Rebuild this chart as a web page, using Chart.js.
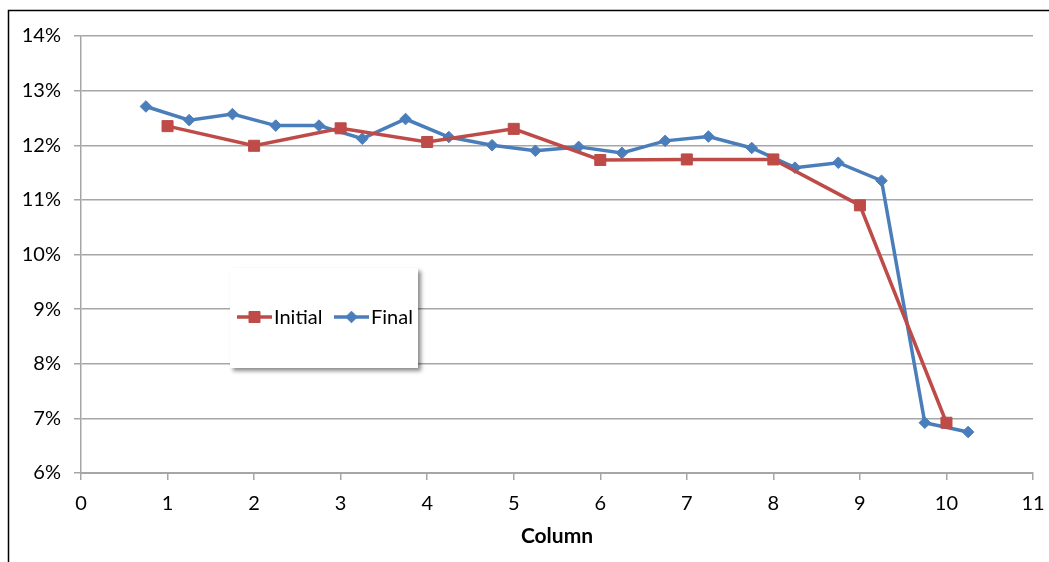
<!DOCTYPE html>
<html>
<head>
<meta charset="utf-8">
<script src="https://cdn.jsdelivr.net/npm/chart.js@4.4.1/dist/chart.umd.min.js"></script>
<style>
  html, body { margin: 0; padding: 0; background: #fff; overflow: hidden; }
  #wrap { position: relative; width: 1049px; height: 562px; }
</style>
</head>
<body>
<div id="wrap"><canvas id="c" width="1049" height="562"></canvas></div>
<script>
// ---- Data ----
const initialX = [1, 2, 3, 4, 5, 6, 7, 8, 9, 10];
const initialY = [12.35, 11.99, 12.31, 12.06, 12.30, 11.73, 11.74, 11.74, 10.90, 6.92];
const finalX = [0.75, 1.25, 1.75, 2.25, 2.75, 3.25, 3.75, 4.25, 4.75, 5.25, 5.75, 6.25, 6.75, 7.25, 7.75, 8.25, 8.75, 9.25, 9.75, 10.25];
const finalY = [12.71, 12.46, 12.57, 12.36, 12.36, 12.12, 12.48, 12.15, 12.00, 11.90, 11.97, 11.86, 12.08, 12.16, 11.95, 11.59, 11.68, 11.35, 6.92, 6.75];
const seriesNames = ['Initial', 'Final'];
const xTitle = 'Column';

const RED = '#BE4B48';
const BLUE = '#4A7EBB';
const GRID = '#A6A6A6';
const FONT = 'Lato, "Open Sans", sans-serif';

const toPts = (xs, ys) => xs.map((x, i) => ({ x: x, y: ys[i] }));

const framePlugin = {
  id: 'frame',
  afterDraw(chart) {
    const ctx = chart.ctx;
    ctx.save();
    ctx.strokeStyle = '#000';
    ctx.lineWidth = 1.5;
    ctx.beginPath();
    ctx.moveTo(8.5, 562);
    ctx.lineTo(8.5, 10.5);
    ctx.lineTo(1049, 10.5);
    ctx.stroke();
    ctx.restore();
  }
};

const legendPlugin = {
  id: 'boxLegend',
  afterDraw(chart) {
    const ctx = chart.ctx;
    const bx = 230, by = 268, bw = 188, bh = 100;
    ctx.save();
    ctx.shadowColor = 'rgba(0,0,0,0.45)';
    ctx.shadowBlur = 4;
    ctx.shadowOffsetX = 3;
    ctx.shadowOffsetY = 3;
    ctx.fillStyle = '#fff';
    ctx.fillRect(bx, by, bw, bh);
    ctx.restore();

    const cy = by + 49;
    const items = [
      { ds: chart.data.datasets[0], x0: 237 },
      { ds: chart.data.datasets[1], x0: 334 }
    ];
    ctx.save();
    ctx.font = '20px ' + FONT;
    ctx.textBaseline = 'middle';
    items.forEach(it => {
      const ds = it.ds;
      ctx.strokeStyle = ds.borderColor;
      ctx.lineWidth = ds.borderWidth;
      ctx.beginPath();
      ctx.moveTo(it.x0, cy);
      ctx.lineTo(it.x0 + 35, cy);
      ctx.stroke();
      ctx.fillStyle = ds.backgroundColor;
      ctx.strokeStyle = ds.borderColor;
      ctx.lineWidth = 1;
      ctx.beginPath();
      const r = ds.pointRadius;
      const px = it.x0 + 17.5;
      if (ds.pointStyle === 'rect') {
        const s = Math.SQRT1_2 * r;
        ctx.rect(px - s, cy - s, 2 * s, 2 * s);
      } else {
        ctx.moveTo(px, cy - r); ctx.lineTo(px + r, cy); ctx.lineTo(px, cy + r); ctx.lineTo(px - r, cy); ctx.closePath();
      }
      ctx.fill();
      ctx.stroke();
      ctx.fillStyle = '#000';
      ctx.fillText(ds.label, it.x0 + 37, cy + 1);
    });
    ctx.restore();
  }
};

new Chart(document.getElementById('c'), {
  type: 'line',
  data: {
    datasets: [
      {
        label: seriesNames[0],
        data: toPts(initialX, initialY),
        borderColor: RED,
        backgroundColor: RED,
        borderWidth: 3.5,
        pointStyle: 'rect',
        pointRadius: 7.8,
        pointBorderWidth: 1,
        pointBackgroundColor: RED,
        pointBorderColor: RED,
        tension: 0
      },
      {
        label: seriesNames[1],
        data: toPts(finalX, finalY),
        borderColor: BLUE,
        backgroundColor: BLUE,
        borderWidth: 3.5,
        pointStyle: 'rectRot',
        pointRadius: 5.8,
        pointBorderWidth: 1,
        pointBackgroundColor: BLUE,
        pointBorderColor: BLUE,
        tension: 0
      }
    ]
  },
  options: {
    responsive: false,
    animation: false,
    devicePixelRatio: 1,
    layout: { padding: { left: 0, top: 36, right: 16, bottom: 0 } },
    plugins: {
      legend: { display: false },
      tooltip: { enabled: false },
      title: { display: false }
    },
    scales: {
      x: {
        type: 'linear',
        min: 0,
        max: 11,
        ticks: {
          stepSize: 1,
          color: '#000',
          font: { family: FONT, size: 20 },
          padding: 12,
          maxRotation: 0
        },
        grid: {
          drawOnChartArea: false,
          drawTicks: true,
          tickLength: 7,
          color: GRID,
          lineWidth: 1.5
        },
        border: { color: GRID, width: 2 },
        title: {
          display: true,
          text: xTitle,
          color: '#000',
          font: { family: FONT, size: 21, weight: 'bold' },
          padding: { top: 0, bottom: 13 }
        },
        afterFit(scale) {
          scale.height = 89;
          scale.paddingLeft = 0;
          scale.paddingRight = 0;
        }
      },
      y: {
        type: 'linear',
        min: 6,
        max: 14,
        ticks: {
          stepSize: 1,
          color: '#000',
          font: { family: FONT, size: 20 },
          padding: 13,
          callback: v => v + '%'
        },
        grid: {
          color: GRID,
          lineWidth: 1.5,
          tickLength: 7,
          drawTicks: true
        },
        border: { color: GRID, width: 1.5 },
        afterFit(scale) {
          scale.width = 81;
          scale.paddingTop = 0;
          scale.paddingBottom = 0;
        }
      }
    }
  },
  plugins: [framePlugin, legendPlugin]
});
</script>
</body>
</html>
